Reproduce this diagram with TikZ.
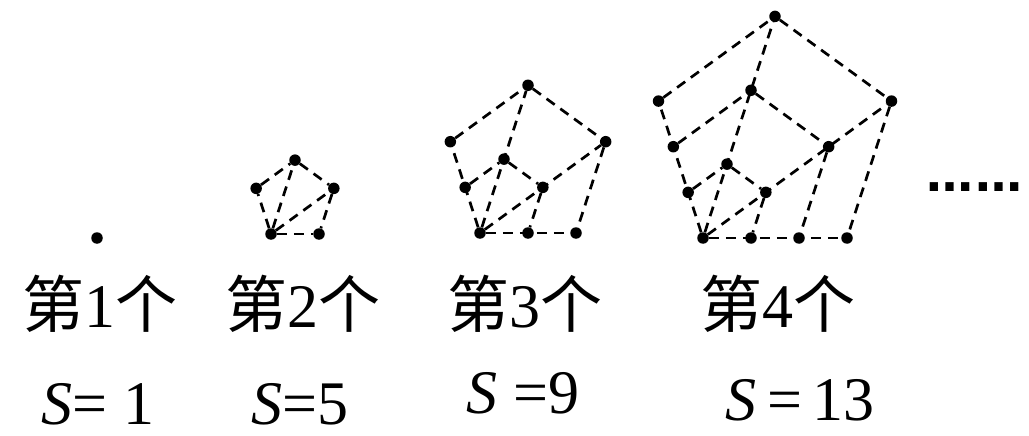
\documentclass[tikz,border=0pt]{standalone}
\usepackage{fontspec}
\setmainfont{Liberation Serif}
\newfontfamily\cjk{Noto Sans CJK SC}
\newfontfamily\dvs{DejaVu Sans}
\pgfdeclarelayer{bg}
\pgfsetlayers{bg,main}
\tikzset{
  pdot/.style={circle, fill=black, inner sep=0pt, minimum size=11.5pt},
  pedge/.style={draw=black, line width=2.7pt, dash pattern=on 10pt off 7pt},
  lab/.style={anchor=base, inner sep=0pt, text depth=0pt, font=\fontsize{62}{70}\selectfont},
}
\newcommand\pentfig[4]{%
  \node[pdot] (#1O) at (#2,#3) {};
  \foreach \k in {1,...,#4}{%
    \node[pdot] (#1B\k) at ({#2+\k*48},{#3}) {};
    \node[pdot] (#1R\k) at ({#2+1.309*\k*48},{#3-0.951*\k*48}) {};
    \node[pdot] (#1T\k) at ({#2+0.5*\k*48},{#3-1.539*\k*48}) {};
    \node[pdot] (#1L\k) at ({#2-0.309*\k*48},{#3-0.951*\k*48}) {};
  }
  \begin{pgfonlayer}{bg}
    \draw[pedge] (#1O) -- (#1B#4);
    \draw[pedge] (#1O) -- (#1L#4);
    \draw[pedge] (#1O) -- (#1T#4);
    \draw[pedge] (#1O) -- (#1R#4);
    \foreach \k in {1,...,#4}{\draw[pedge] (#1L\k) -- (#1T\k) -- (#1R\k) -- (#1B\k);}
  \end{pgfonlayer}
}
\begin{document}
\begin{tikzpicture}[x=1pt,y=-1pt]
\useasboundingbox (0,0) rectangle (1029,436);
% figure 1
\node[pdot] (aO) at (97,238) {};
% figures 2-4
\pentfig{b}{271}{234}{1}
\pentfig{c}{480}{233}{2}
\pentfig{d}{703}{238}{3}
% labels
\node[lab] (t1) at (100,327) {{\cjk 第}1{\cjk 个}};
\node[lab] (t2) at (303,327) {{\cjk 第}2{\cjk 个}};
\node[lab] (t3) at (525,327) {{\cjk 第}3{\cjk 个}};
\node[lab] (t4) at (778,327) {{\cjk 第}4{\cjk 个}};
\node[lab] (s1) at (98,424) {\textit{S}= 1};
\node[lab] (s2) at (300,424) {\textit{S}=5};
\node[lab] (s3) at (523,413) {\textit{S} =9};
\node[lab] (s4) at (800,420) {\textit{S}\,=\,13};
\node[anchor=base west, inner sep=0pt, font=\dvs\bfseries\fontsize{47}{56}\selectfont] (dots) at (926,191) {…\kern2pt…};
\end{tikzpicture}
\end{document}
